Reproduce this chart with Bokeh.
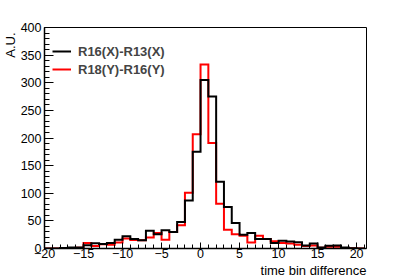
from bokeh.plotting import figure
from bokeh.models import Legend, LegendItem, SingleIntervalTicker, Range1d, Title
from bokeh.embed import file_html
from bokeh.resources import INLINE

# lower bin edges (bin width 1)
bin_low = list(range(-20, 21))
bin_width = 1
r16_r13 = [0, 0, 1, 2, 2, 6, 9.5, 8, 10, 16, 22, 17, 15, 32, 26, 33, 30, 48, 87, 175,
           305, 275, 121, 75, 46, 25, 28, 17, 17, 10, 14, 12.5, 11.5, 5.5, 9, 2, 5, 5.5, 2, 0.5, 0]
r18_r16 = [0, 0, 0, 1, 1.5, 10, 4.5, 7.5, 7, 11, 18, 15.5, 15, 20, 28, 16, 30, 42, 101, 207,
           333, 191, 81, 34, 26, 23, 11, 23, 17, 13, 10, 9, 7, 4.5, 5.5, 1.2, 3, 3, 1, 0.5, 0]
labels = ["R16(X)-R13(X)", "R18(Y)-R16(Y)"]
colors = ["black", "#ff0000"]
x_title = "time bin difference"
y_title = "A.U."

FONT = "Liberation Sans"


def hist_path(lows, vals, w):
    xs = [lows[0]]
    ys = [0]
    for lo, v in zip(lows, vals):
        xs += [lo, lo + w]
        ys += [v, v]
    xs.append(lows[-1] + w)
    ys.append(0)
    return xs, ys


p = figure(width=407, height=277, x_range=Range1d(-20, 21.27), y_range=Range1d(0, 400),
           output_backend="svg", toolbar_location=None,
           min_border_left=41, min_border_right=41, min_border_top=27, min_border_bottom=28)
p.grid.visible = False
p.background_fill_color = "white"
p.border_fill_color = "white"
p.outline_line_color = "black"
p.outline_line_width = 1

p.xaxis.ticker = SingleIntervalTicker(interval=5, num_minor_ticks=5)
p.yaxis.ticker = SingleIntervalTicker(interval=50, num_minor_ticks=5)
for ax in (p.xaxis, p.yaxis):
    ax.major_tick_out = 0
    ax.minor_tick_out = 0
    ax.axis_line_color = "black"
    ax.axis_line_width = 1.5
    ax.major_tick_line_color = "black"
    ax.minor_tick_line_color = "black"
    ax.major_label_text_font = FONT
    ax.major_label_text_font_size = "12.5px"
    ax.major_label_text_color = "black"
p.xaxis.major_tick_in = 6
p.xaxis.minor_tick_in = 4
p.yaxis.major_tick_in = 9
p.yaxis.minor_tick_in = 5
p.xaxis.major_label_standoff = 0
p.yaxis.major_label_standoff = 3

xr, yr = hist_path(bin_low, r18_r16, bin_width)
rr = p.line(xr, yr, line_color=colors[1], line_width=2, line_join="miter")
xb, yb = hist_path(bin_low, r16_r13, bin_width)
rb = p.line(xb, yb, line_color=colors[0], line_width=2, line_join="miter")

legend = Legend(items=[LegendItem(label=labels[0], renderers=[rb]),
                       LegendItem(label=labels[1], renderers=[rr])],
                location=(8, 170), border_line_color=None, background_fill_alpha=0,
                margin=0, padding=0, spacing=0, glyph_width=19, glyph_height=18,
                label_standoff=7, label_text_font=FONT, label_text_font_style="bold",
                label_text_font_size="13px", label_height=18)
p.add_layout(legend)

p.add_layout(Title(text=x_title, align="right", standoff=0, text_font=FONT,
                   text_font_size="13px", text_font_style="normal", text_color="black"),
             "below")
p.add_layout(Title(text=y_title, align="right", standoff=0, offset=5, text_font=FONT,
                   text_font_size="13px", text_font_style="normal", text_color="black"),
             "left")

open("out.html", "w").write(file_html(p, INLINE))
